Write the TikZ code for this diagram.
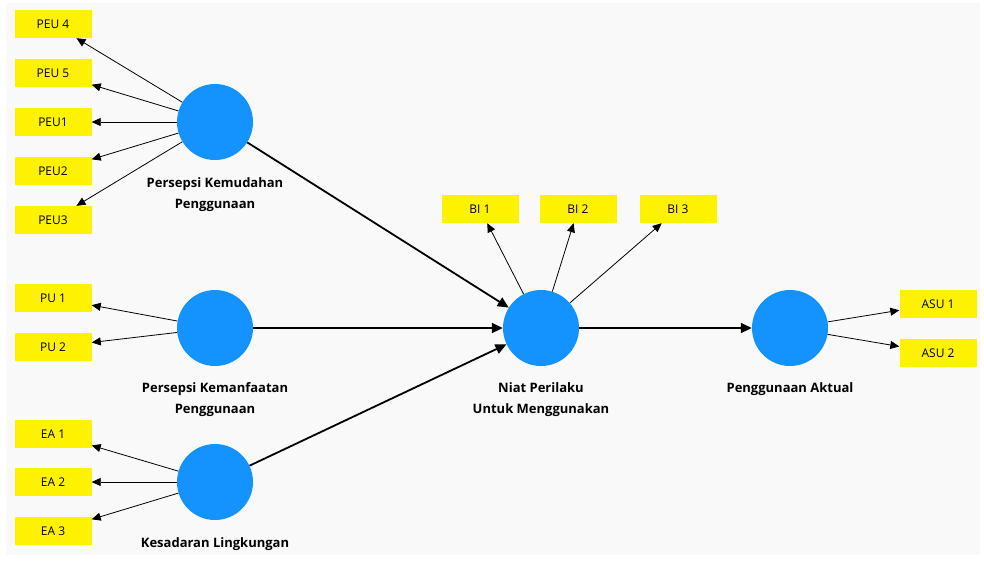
\documentclass[tikz,border=0pt]{standalone}
\usepackage{fontspec}
\setmainfont{Open Sans}
\usetikzlibrary{arrows.meta}
\definecolor{lvblue}{RGB}{20,147,255}
\definecolor{bggray}{RGB}{249,249,249}

\begin{document}
\begin{tikzpicture}[x=1pt,y=-1pt,
		ind/.style={fill=yellow,minimum width=77pt,minimum height=28pt,inner sep=0pt,font=\fontsize{12}{14}\selectfont},
		lv/.style={circle,fill=lvblue,minimum size=76pt,inner sep=0pt},
		lbl/.style={align=center,font=\bfseries\fontsize{13}{21}\selectfont},
		load/.style={-{Triangle[length=9pt,width=8pt]},line width=0.8pt},
		struct/.style={-{Triangle[length=11pt,width=10pt]},line width=1.8pt}]
				\useasboundingbox (0,0) rectangle (984,560);
				\fill[bggray] (6,3) rectangle (980,555);
				
				% latent variables
				\node (peu) at (215,122) [lv] {};
				\node (pu) at (215,328) [lv] {};
				\node (ea) at (215,482) [lv] {};
				\node (bi) at (541,328) [lv] {};
				\node (asu) at (790,328) [lv] {};
				
				\node (lpeu) at (215,195) [lbl] {Persepsi Kemudahan\\Penggunaan};
				\node (lpu) at (215,400) [lbl] {Persepsi Kemanfaatan\\Penggunaan};
				\node (lea) at (215,544) [lbl] {Kesadaran Lingkungan};
				\node (lbi) at (541,400) [lbl] {Niat Perilaku\\Untuk Menggunakan};
				\node (lasu) at (790,389) [lbl] {Penggunaan Aktual};
				
				% indicators
				\node (peu4) at (53,24) [ind] {PEU 4};
				\node (peu5) at (53,73) [ind] {PEU 5};
				\node (peu1) at (53,122) [ind] {PEU1};
				\node (peu2) at (53,171) [ind] {PEU2};
				\node (peu3) at (53,220) [ind] {PEU3};
				\node (pu1) at (53,298) [ind] {PU 1};
				\node (pu2) at (53,347) [ind] {PU 2};
				\node (ea1) at (53,434) [ind] {EA 1};
				\node (ea2) at (53,482) [ind] {EA 2};
				\node (ea3) at (53,531) [ind] {EA 3};
				\node (bi1) at (480,209) [ind] {BI 1};
				\node (bi2) at (578,209) [ind] {BI 2};
				\node (bi3) at (678,209) [ind] {BI 3};
				\node (asu1) at (938,304) [ind] {ASU 1};
				\node (asu2) at (938,353) [ind] {ASU 2};
				
				\foreach \i in {peu4,peu5,peu1,peu2,peu3}
					\draw[load] (peu) -- (\i);
				\foreach \i in {pu1,pu2}
					\draw[load] (pu) -- (\i);
				\foreach \i in {ea1,ea2,ea3}
					\draw[load] (ea) -- (\i);
				\foreach \i in {bi1,bi2,bi3}
					\draw[load] (bi) -- (\i);
				\foreach \i in {asu1,asu2}
					\draw[load] (asu) -- (\i);
				
				\draw[struct] (peu) -- (bi);
				\draw[struct] (pu) -- (bi);
				\draw[struct] (ea) -- (bi);
				\draw[struct] (bi) -- (asu);
			\end{tikzpicture}
\end{document}
